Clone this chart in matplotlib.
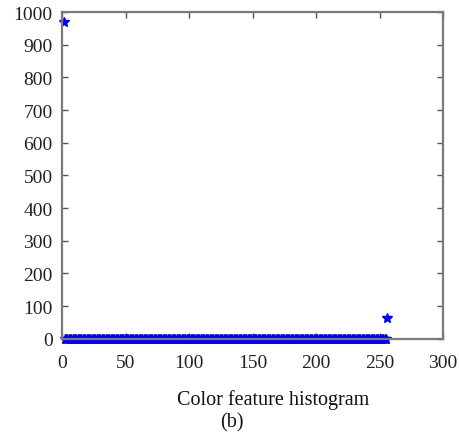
import numpy as np
import matplotlib.pyplot as plt

plt.rcParams['font.family'] = ['Liberation Serif', 'DejaVu Serif']

# histogram bin counts
bins = list(range(1, 257))
counts = [970] + [0] * 254 + [64]
x_ticks = [0, 50, 100, 150, 200, 250, 300]
y_ticks = [0, 100, 200, 300, 400, 500, 600, 700, 800, 900, 1000]

fig = plt.figure(figsize=(4.59, 4.39), dpi=100)
ax = fig.add_axes([0.136, 0.226, 0.829, 0.744])
ax.plot(bins, counts, linestyle='none', marker='*', markersize=7,
        color='#0000ee', markeredgewidth=1.0, clip_on=False)

ax.set_xlim(0, 300)
ax.set_ylim(0, 1000)
ax.set_xticks(x_ticks)
ax.set_yticks(y_ticks)
ax.tick_params(direction='in', length=4, width=1.0, color='#555555',
               top=True, right=True, labelsize=14, labelcolor='#222222')
ax.tick_params(axis='x', pad=11)
ax.tick_params(axis='y', pad=7)
for s in ax.spines.values():
    s.set_color('#7a7a7a')
    s.set_linewidth(1.6)

fig.text(0.595, 0.089, 'Color feature histogram', ha='center', va='center',
         fontsize=14.5, color='#111111')
fig.text(0.505, 0.036, '(b)', ha='center', va='center', fontsize=14.5,
         color='#111111')

fig.savefig('out.png', dpi=100)
